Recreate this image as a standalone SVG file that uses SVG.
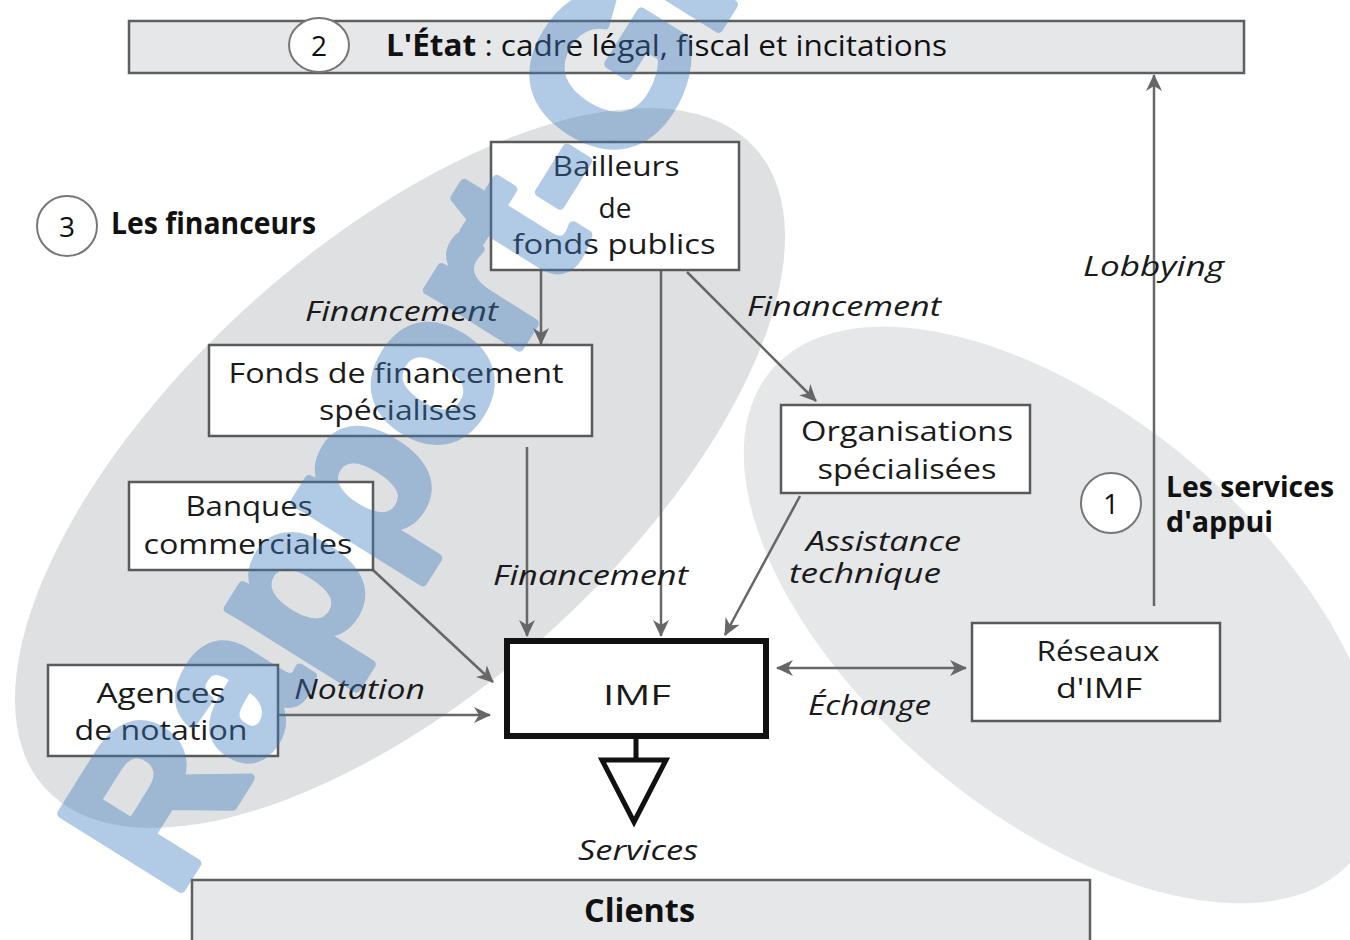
<svg xmlns="http://www.w3.org/2000/svg" width="1350" height="940" viewBox="0 0 1350 940">
  <style>
    .box { fill: #ffffff; stroke: #5a5a5a; stroke-width: 2.5; }
    .band { fill: #e6e7e9; stroke: #5f5f5f; stroke-width: 2.5; }
    .badge { fill: #ffffff; stroke: #777777; stroke-width: 2; }
    .t { font-family: "Open Sans", "Noto Sans", "Liberation Sans", sans-serif; font-size: 28px; fill: #1a1a1a; text-anchor: middle; }
    .lbl { font-family: "Open Sans", "Noto Sans", "Liberation Sans", sans-serif; font-size: 28px; font-style: italic; fill: #1a1a1a; }
    .bold { font-family: "Open Sans", "Noto Sans", "Liberation Sans", sans-serif; font-weight: bold; fill: #111111; }
    .num { font-family: "Open Sans", "Noto Sans", "Liberation Sans", sans-serif; font-size: 28px; fill: #111111; text-anchor: middle; }
    .conn { stroke: #676767; stroke-width: 2.5; fill: none; }
  </style>
  <defs>
    <marker id="arr" markerUnits="userSpaceOnUse" markerWidth="18" markerHeight="16" refX="16" refY="8" orient="auto-start-reverse">
      <path d="M0,0 L17,8 L0,16 L5,8 Z" fill="#676767"/>
    </marker>
  </defs>

  <rect width="1350" height="940" fill="#ffffff"/>

  <!-- group backgrounds -->
  <g id="zones">
    <ellipse cx="400" cy="468" rx="478" ry="222" transform="rotate(-42 400 468)" fill="#dfe0e2"/>
    <ellipse cx="1062" cy="615" rx="380" ry="200" transform="rotate(40 1062 615)" fill="#e6e7e9"/>
  </g>

  <!-- State band -->
  <g id="etat">
    <rect class="band" x="129" y="21" width="1115" height="52"/>
    <ellipse class="badge" cx="319" cy="45" rx="30" ry="27"/>
    <text class="num" x="319" y="56" font-size="30">2</text>
    <text x="386" y="56" font-family="Open Sans, Noto Sans, sans-serif" font-size="30" fill="#111" textLength="561" lengthAdjust="spacingAndGlyphs"><tspan font-weight="bold">L'État</tspan> : cadre légal, fiscal et incitations</text>
  </g>

  <!-- group captions -->
  <g id="legend-financeurs">
    <circle class="badge" cx="67" cy="226" r="30"/>
    <text class="num" x="67" y="237" font-size="30">3</text>
    <text class="bold" x="111" y="234" font-size="30" textLength="205" lengthAdjust="spacingAndGlyphs">Les financeurs</text>
  </g>
  <g id="legend-appui">
    <circle class="badge" cx="1111" cy="503" r="30"/>
    <text class="num" x="1111" y="514" font-size="30">1</text>
    <text class="bold" x="1166" y="497" font-size="29" textLength="168" lengthAdjust="spacingAndGlyphs">Les services</text>
    <text class="bold" x="1166" y="532" font-size="29" textLength="107" lengthAdjust="spacingAndGlyphs">d'appui</text>
  </g>

  <!-- connectors -->
  <g id="connectors">
    <line class="conn" x1="541" y1="270" x2="541" y2="344" marker-end="url(#arr)"/>
    <line class="conn" x1="661" y1="270" x2="661" y2="636" marker-end="url(#arr)"/>
    <line class="conn" x1="527" y1="447" x2="527" y2="636" marker-end="url(#arr)"/>
    <line class="conn" x1="687" y1="272" x2="816" y2="401" marker-end="url(#arr)"/>
    <line class="conn" x1="800" y1="496" x2="725" y2="635" marker-end="url(#arr)"/>
    <line class="conn" x1="373" y1="570" x2="493" y2="682" marker-end="url(#arr)"/>
    <line class="conn" x1="278" y1="715" x2="490" y2="715" marker-end="url(#arr)"/>
    <line class="conn" x1="777" y1="668" x2="966" y2="668" marker-start="url(#arr)" marker-end="url(#arr)"/>
    <line class="conn" x1="1154" y1="606" x2="1154" y2="75" marker-end="url(#arr)"/>
    <line x1="636" y1="736" x2="636" y2="760" stroke="#111" stroke-width="5"/>
    <polygon points="602,760 666,760 634,822" fill="#ffffff" stroke="#111" stroke-width="5" stroke-linejoin="miter"/>
  </g>

  <!-- connector labels -->
  <g id="labels">
    <text class="lbl" x="305" y="321" textLength="193" lengthAdjust="spacingAndGlyphs">Financement</text>
    <text class="lbl" x="747" y="316" textLength="194" lengthAdjust="spacingAndGlyphs">Financement</text>
    <text class="lbl" x="493" y="585" textLength="195" lengthAdjust="spacingAndGlyphs">Financement</text>
    <text class="lbl" x="1083" y="276" textLength="141" lengthAdjust="spacingAndGlyphs">Lobbying</text>
    <text class="lbl" x="806" y="551" textLength="155" lengthAdjust="spacingAndGlyphs">Assistance</text>
    <text class="lbl" x="789" y="583" textLength="152" lengthAdjust="spacingAndGlyphs">technique</text>
    <text class="lbl" x="294" y="699" textLength="131" lengthAdjust="spacingAndGlyphs">Notation</text>
    <text class="lbl" x="808" y="715" textLength="123" lengthAdjust="spacingAndGlyphs">Échange</text>
    <text class="lbl" x="578" y="860" textLength="120" lengthAdjust="spacingAndGlyphs">Services</text>
  </g>

  <!-- nodes -->
  <g id="bailleurs">
    <rect class="box" x="491" y="142" width="248" height="128"/>
    <text class="t" x="616" y="176" textLength="127" lengthAdjust="spacingAndGlyphs">Bailleurs</text>
    <text class="t" x="615" y="218">de</text>
    <text class="t" x="614" y="254" textLength="203" lengthAdjust="spacingAndGlyphs">fonds publics</text>
  </g>
  <g id="fonds">
    <rect class="box" x="209" y="345" width="383" height="91"/>
    <text class="t" x="396" y="383" textLength="335" lengthAdjust="spacingAndGlyphs">Fonds de financement</text>
    <text class="t" x="398" y="420" textLength="158" lengthAdjust="spacingAndGlyphs">spécialisés</text>
  </g>
  <g id="banques">
    <rect class="box" x="129" y="482" width="244" height="88"/>
    <text class="t" x="249" y="516" textLength="127" lengthAdjust="spacingAndGlyphs">Banques</text>
    <text class="t" x="248" y="554" textLength="209" lengthAdjust="spacingAndGlyphs">commerciales</text>
  </g>
  <g id="agences">
    <rect class="box" x="48" y="665" width="230" height="91"/>
    <text class="t" x="161" y="703" textLength="129" lengthAdjust="spacingAndGlyphs">Agences</text>
    <text class="t" x="161" y="740" textLength="173" lengthAdjust="spacingAndGlyphs">de notation</text>
  </g>
  <g id="organisations">
    <rect class="box" x="781" y="405" width="249" height="88"/>
    <text class="t" x="907" y="441" textLength="212" lengthAdjust="spacingAndGlyphs">Organisations</text>
    <text class="t" x="907" y="479" textLength="179" lengthAdjust="spacingAndGlyphs">spécialisées</text>
  </g>
  <g id="imf">
    <rect x="507" y="641" width="259" height="95" fill="#ffffff" stroke="#111111" stroke-width="6"/>
    <text class="t" x="637" y="705" font-size="35" textLength="68" lengthAdjust="spacingAndGlyphs">IMF</text>
  </g>
  <g id="reseaux">
    <rect class="box" x="972" y="623" width="248" height="98"/>
    <text class="t" x="1098" y="661" textLength="123" lengthAdjust="spacingAndGlyphs">Réseaux</text>
    <text class="t" x="1099" y="698" textLength="86" lengthAdjust="spacingAndGlyphs">d'IMF</text>
  </g>
  <g id="clients">
    <rect class="band" x="192" y="880" width="898" height="70"/>
    <text class="bold" x="584" y="922" font-size="33" textLength="111" lengthAdjust="spacingAndGlyphs">Clients</text>
  </g>

  <!-- site watermark overlay -->
  <g id="watermark" opacity="0.4">
    <text x="174" y="900" transform="rotate(-58 174 900)" font-family="Liberation Sans, Arial, sans-serif" font-weight="bold" font-size="205" fill="#3f7cbf" stroke="#3f7cbf" stroke-width="9" stroke-linejoin="round">Rapport-Gr</text>
  </g>
</svg>
